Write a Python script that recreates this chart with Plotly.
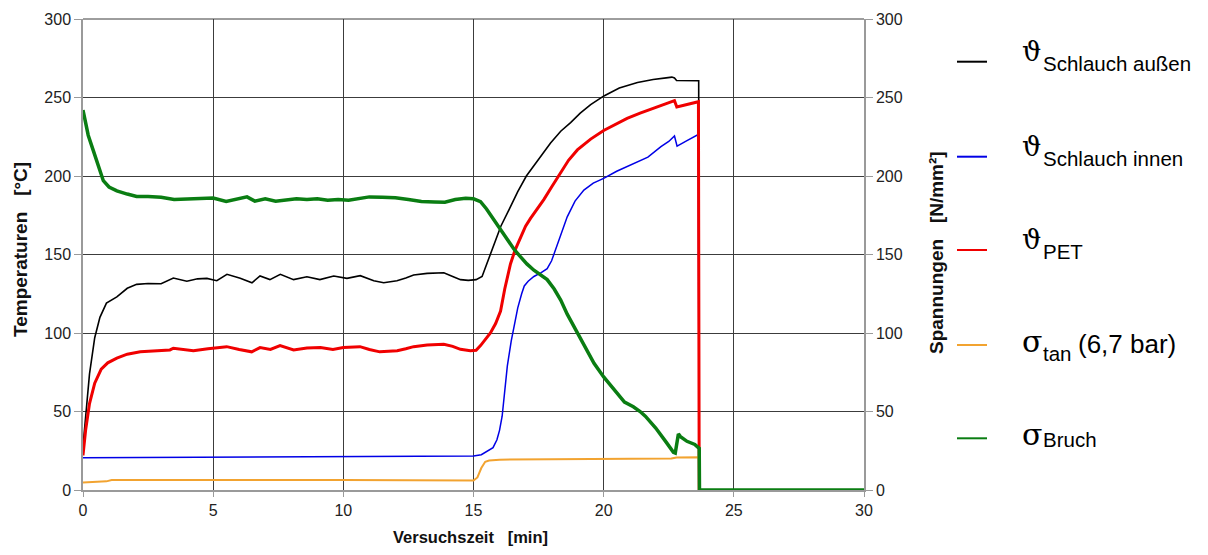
import plotly.graph_objects as go

# Versuchszeit [min] und Messwerte
t_aussen = [0, 0.1, 0.25, 0.45, 0.65, 0.9, 1.3, 1.7, 2.06, 2.5, 3.0, 3.47, 3.99, 4.4, 4.76, 5.14, 5.53,
            6.04, 6.49, 6.8, 7.18, 7.58, 8.09, 8.6, 9.1, 9.63, 10.14, 10.65, 11.17, 11.55, 12.06, 12.4,
            12.7, 13.22, 13.86, 14.2, 14.5, 14.8, 15.1, 15.33, 15.55, 15.78, 16.05, 16.38, 16.7, 17.03,
            17.5, 17.96, 18.35, 18.73, 19.1, 19.5, 20.01, 20.6, 21.3, 21.9, 22.4, 22.62, 22.72, 22.8,
            23.65, 23.67]
v_aussen = [28, 48, 74, 97, 110, 119, 123, 128.5, 131, 131.5, 131.4, 135, 133, 134.5, 134.8, 133.3, 137.4,
            134.8, 132, 136.3, 134, 137.4, 134, 135.8, 134, 136.3, 134.8, 136.5, 133.3, 132, 133.3, 135,
            136.9, 138, 138.4, 136, 134, 133.5, 134, 136, 146, 157, 168, 179, 190, 200,
            211, 221, 228.5, 234, 240, 245.5, 251, 256, 259.5, 261.5, 262.5, 263, 262.4, 260.8,
            260.7, 0]

t_innen = [0, 5, 10, 15, 15.3, 15.52, 15.75, 15.9, 16.0, 16.1, 16.2, 16.3, 16.45, 16.55, 16.7, 16.85,
           16.95, 17.1, 17.32, 17.6, 17.83, 18.0, 18.2, 18.4, 18.6, 18.9, 19.24, 19.6, 20.0, 20.5, 20.9,
           21.4, 21.7, 22.2, 22.5, 22.72, 22.82, 23.2, 23.63, 23.67]
v_innen = [20.5, 21.0, 21.3, 21.7, 22.5, 24.5, 27, 32, 38, 47, 62, 79, 95, 104, 116, 125,
           130, 133, 136, 138.5, 141, 146, 155, 165, 174, 184, 191, 195.5, 198.5, 203, 206,
           210, 212, 218.7, 222, 225.5, 219, 222.5, 226.4, 0]

t_pet = [0, 0.1, 0.25, 0.45, 0.7, 0.95, 1.3, 1.7, 2.2, 2.8, 3.34, 3.47, 3.9, 4.24, 4.8, 5.52, 6.0, 6.48,
         6.8, 7.2, 7.57, 8.09, 8.6, 9.12, 9.6, 10.0, 10.64, 11.0, 11.4, 12.07, 12.4, 12.7, 13.22, 13.86,
         14.2, 14.5, 14.88, 15.1, 15.27, 15.45, 15.65, 15.85, 16.04, 16.2, 16.42, 16.6, 16.8, 17.0,
         17.19, 17.45, 17.7, 18.0, 18.35, 18.65, 18.99, 19.5, 20.0, 20.45, 20.9, 21.4, 21.9, 22.3,
         22.68, 22.72, 22.81, 23.2, 23.64, 23.67]
v_pet = [22, 38, 55, 68, 77, 81, 84, 86.5, 88, 88.5, 89.2, 90.3, 89.5, 88.7, 90, 91.3, 89.5, 88,
         90.7, 89.5, 92, 89.2, 90.5, 90.7, 89.5, 90.7, 91.3, 89.5, 88, 88.7, 90, 91.3, 92.4, 92.8,
         91.5, 89.6, 88.7, 89, 92, 95.5, 100, 106, 114, 128, 144, 153, 161, 168,
         173, 179, 185, 193, 202, 210, 216.6, 223.5, 229, 233, 236.7, 240, 243, 245.2,
         247.5, 248, 244, 245.5, 247.3, 0]

t_tan = [0, 0.5, 0.9, 1.1, 5, 10, 15.0, 15.15, 15.3, 15.45, 15.6, 16.0, 18.0, 20.0, 22.6, 22.8, 23.66, 23.68]
v_tan = [4.8, 5.0, 5.5, 6.3, 6.4, 6.3, 6.0, 8, 14, 18, 18.8, 19.3, 19.6, 19.8, 20.0, 20.7, 20.8, 0]

t_bruch = [0, 0.1, 0.2, 0.4, 0.6, 0.78, 1.0, 1.3, 1.7, 2.06, 2.5, 3.0, 3.5, 4.0, 4.5, 5.0, 5.5, 5.9,
           6.3, 6.6, 7.0, 7.4, 7.8, 8.2, 8.6, 9.0, 9.4, 9.8, 10.2, 10.6, 11.0, 11.5, 12.0, 12.5, 13.0,
           13.5, 13.9, 14.3, 14.7, 15.0, 15.27, 15.5, 15.78, 16.05, 16.3, 16.55, 16.8, 17.05, 17.32,
           17.6, 17.83, 18.1, 18.35, 18.6, 18.86, 19.25, 19.63, 20.0, 20.4, 20.8, 21.14, 21.4, 21.6,
           22.0, 22.4, 22.68, 22.75, 22.8, 22.87, 22.95, 23.2, 23.5, 23.67, 23.68, 30]
v_bruch = [242, 234, 226, 216, 205, 197, 193, 190.5, 188.5, 187, 187, 186.5, 185, 185.5, 185.5, 186,
           183.8, 185.5, 186.7, 184, 185.5, 184, 184.5, 185.5, 185, 185.5, 184.5, 185, 184.5, 185.5,
           186.7, 186.5, 186.2, 185, 183.8, 183.5, 183.3, 185, 185.8, 185.5, 183.6, 179, 172, 165,
           159, 153.5, 148.6, 144, 140, 137, 134, 128, 121, 112, 104, 92, 80.7, 72, 64, 56, 53, 50,
           47, 39.5, 30.5, 24, 23.5, 30, 35.7, 34, 31, 29, 26.5, 0, 0]

x_ticks = [0, 5, 10, 15, 20, 25, 30]
y_ticks = [0, 50, 100, 150, 200, 250, 300]

COL_AUSSEN = "#000000"
COL_INNEN = "#0000e6"
COL_PET = "#f00000"
COL_TAN = "#f2a330"
COL_BRUCH = "#0a7d12"

W, H = 1208, 555
L_PX, R_PX, T_PX, B_PX = 83, 864, 19, 490


def px_x(px):
    return (px - L_PX) / (R_PX - L_PX)


def px_y(py):
    return (B_PX - py) / (B_PX - T_PX)


fig = go.Figure()
fig.add_trace(go.Scatter(x=t_aussen, y=v_aussen, mode="lines", line=dict(color=COL_AUSSEN, width=1.6),
                         yaxis="y", showlegend=False))
fig.add_trace(go.Scatter(x=t_innen, y=v_innen, mode="lines", line=dict(color=COL_INNEN, width=1.5),
                         yaxis="y", showlegend=False))
fig.add_trace(go.Scatter(x=t_pet, y=v_pet, mode="lines", line=dict(color=COL_PET, width=3),
                         yaxis="y", showlegend=False))
fig.add_trace(go.Scatter(x=t_tan, y=v_tan, mode="lines", line=dict(color=COL_TAN, width=2),
                         yaxis="y2", showlegend=False))
fig.add_trace(go.Scatter(x=t_bruch, y=v_bruch, mode="lines", line=dict(color=COL_BRUCH, width=3.5),
                         yaxis="y2", showlegend=False))

tick_font = dict(family="Liberation Sans, Arial, sans-serif", size=16, color="#222222")
grid_col = "#3c3c3c"
axis_col = "#9a9a9a"

fig.update_layout(
    width=W, height=H,
    margin=dict(l=L_PX, r=W - R_PX, t=T_PX, b=H - B_PX, pad=0),
    paper_bgcolor="white", plot_bgcolor="white",
    xaxis=dict(range=[0, 30], tickvals=x_ticks, ticktext=[str(v) for v in x_ticks],
               showgrid=True, gridcolor=grid_col, gridwidth=1, zeroline=False,
               showline=True, linecolor=axis_col, linewidth=2,
               ticks="outside", ticklen=5, tickcolor=axis_col, tickfont=tick_font),
    yaxis=dict(range=[0, 300], tickvals=y_ticks, ticktext=[str(v) for v in y_ticks],
               showgrid=True, gridcolor=grid_col, gridwidth=1, zeroline=False,
               showline=True, linecolor=axis_col, linewidth=1.5,
               ticks="outside", ticklen=7, tickcolor=axis_col, tickfont=tick_font),
    yaxis2=dict(range=[0, 300], tickvals=y_ticks, ticktext=[str(v) for v in y_ticks],
                overlaying="y", side="right", showgrid=False, zeroline=False,
                showline=True, linecolor=axis_col, linewidth=1.5,
                ticks="outside", ticklen=7, tickcolor=axis_col, tickfont=tick_font),
)

# Rahmen oben (Gitterlinie bei 300)
fig.add_shape(type="line", xref="paper", yref="paper", x0=0, x1=1, y0=1, y1=1,
              line=dict(color=grid_col, width=1))

title_font = dict(family="Liberation Sans, Arial, sans-serif", color="#111111")
ann = []
ann.append(dict(text="<b>Versuchszeit   [min]</b>", xref="paper", yref="paper",
                x=px_x(470), y=px_y(537), xanchor="center", yanchor="middle", showarrow=False,
                font=dict(title_font, size=16.5)))
ann.append(dict(text="<b>Temperaturen   [°C]</b>", xref="paper", yref="paper",
                x=px_x(20), y=px_y(250), xanchor="center", yanchor="middle", textangle=-90,
                showarrow=False, font=dict(title_font, size=19)))
ann.append(dict(text="<b>Spannungen   [N/mm²]</b>", xref="paper", yref="paper",
                x=px_x(936), y=px_y(253), xanchor="center", yanchor="middle", textangle=-90,
                showarrow=False, font=dict(title_font, size=19)))

# Legende: Linienmuster, Formelzeichen und Index
serif = "DejaVu Serif, Liberation Serif, serif"
sans = "Liberation Sans, Arial, sans-serif"
S, M = 20.5, 26
legend_rows = [
    # (Linien-y, Farbe, Zeichen, Index, Zusatz)
    (61.7, COL_AUSSEN, "ϑ", "Schlauch außen", ""),
    (156.7, COL_INNEN, "ϑ", "Schlauch innen", ""),
    (250.0, COL_PET, "ϑ", "PET", ""),
    (345.0, COL_TAN, "σ", "tan", "(6,7 bar)"),
    (438.3, COL_BRUCH, "σ", "Bruch", ""),
]
for ly, col, sym, sub, extra in legend_rows:
    fig.add_shape(type="line", xref="paper", yref="paper",
                  x0=px_x(957), x1=px_x(987), y0=px_y(ly), y1=px_y(ly),
                  line=dict(color=col, width=2))
    if sym == "ϑ":
        G = 27
        sym_base, sub_base = ly - 1, ly + 9
    else:
        G = 30
        sym_base, sub_base = ly + 7, (ly + 16 if extra else ly + 8.5)
    ann.append(dict(text=sym, xref="paper", yref="paper", x=px_x(1020), y=px_y(sym_base - 0.35 * G),
                    xanchor="left", yanchor="middle", showarrow=False,
                    font=dict(family=serif, size=G, color="#000000")))
    ann.append(dict(text=sub, xref="paper", yref="paper", x=px_x(1041), y=px_y(sub_base - 0.35 * S),
                    xanchor="left", yanchor="middle", showarrow=False,
                    font=dict(family=sans, size=S, color="#000000")))
    if extra:
        ann.append(dict(text=extra, xref="paper", yref="paper", x=px_x(1076),
                        y=px_y(ly + 8 - 0.35 * M), xanchor="left", yanchor="middle", showarrow=False,
                        font=dict(family=sans, size=M, color="#000000")))

fig.update_layout(annotations=ann)
fig.write_html("out.html")
